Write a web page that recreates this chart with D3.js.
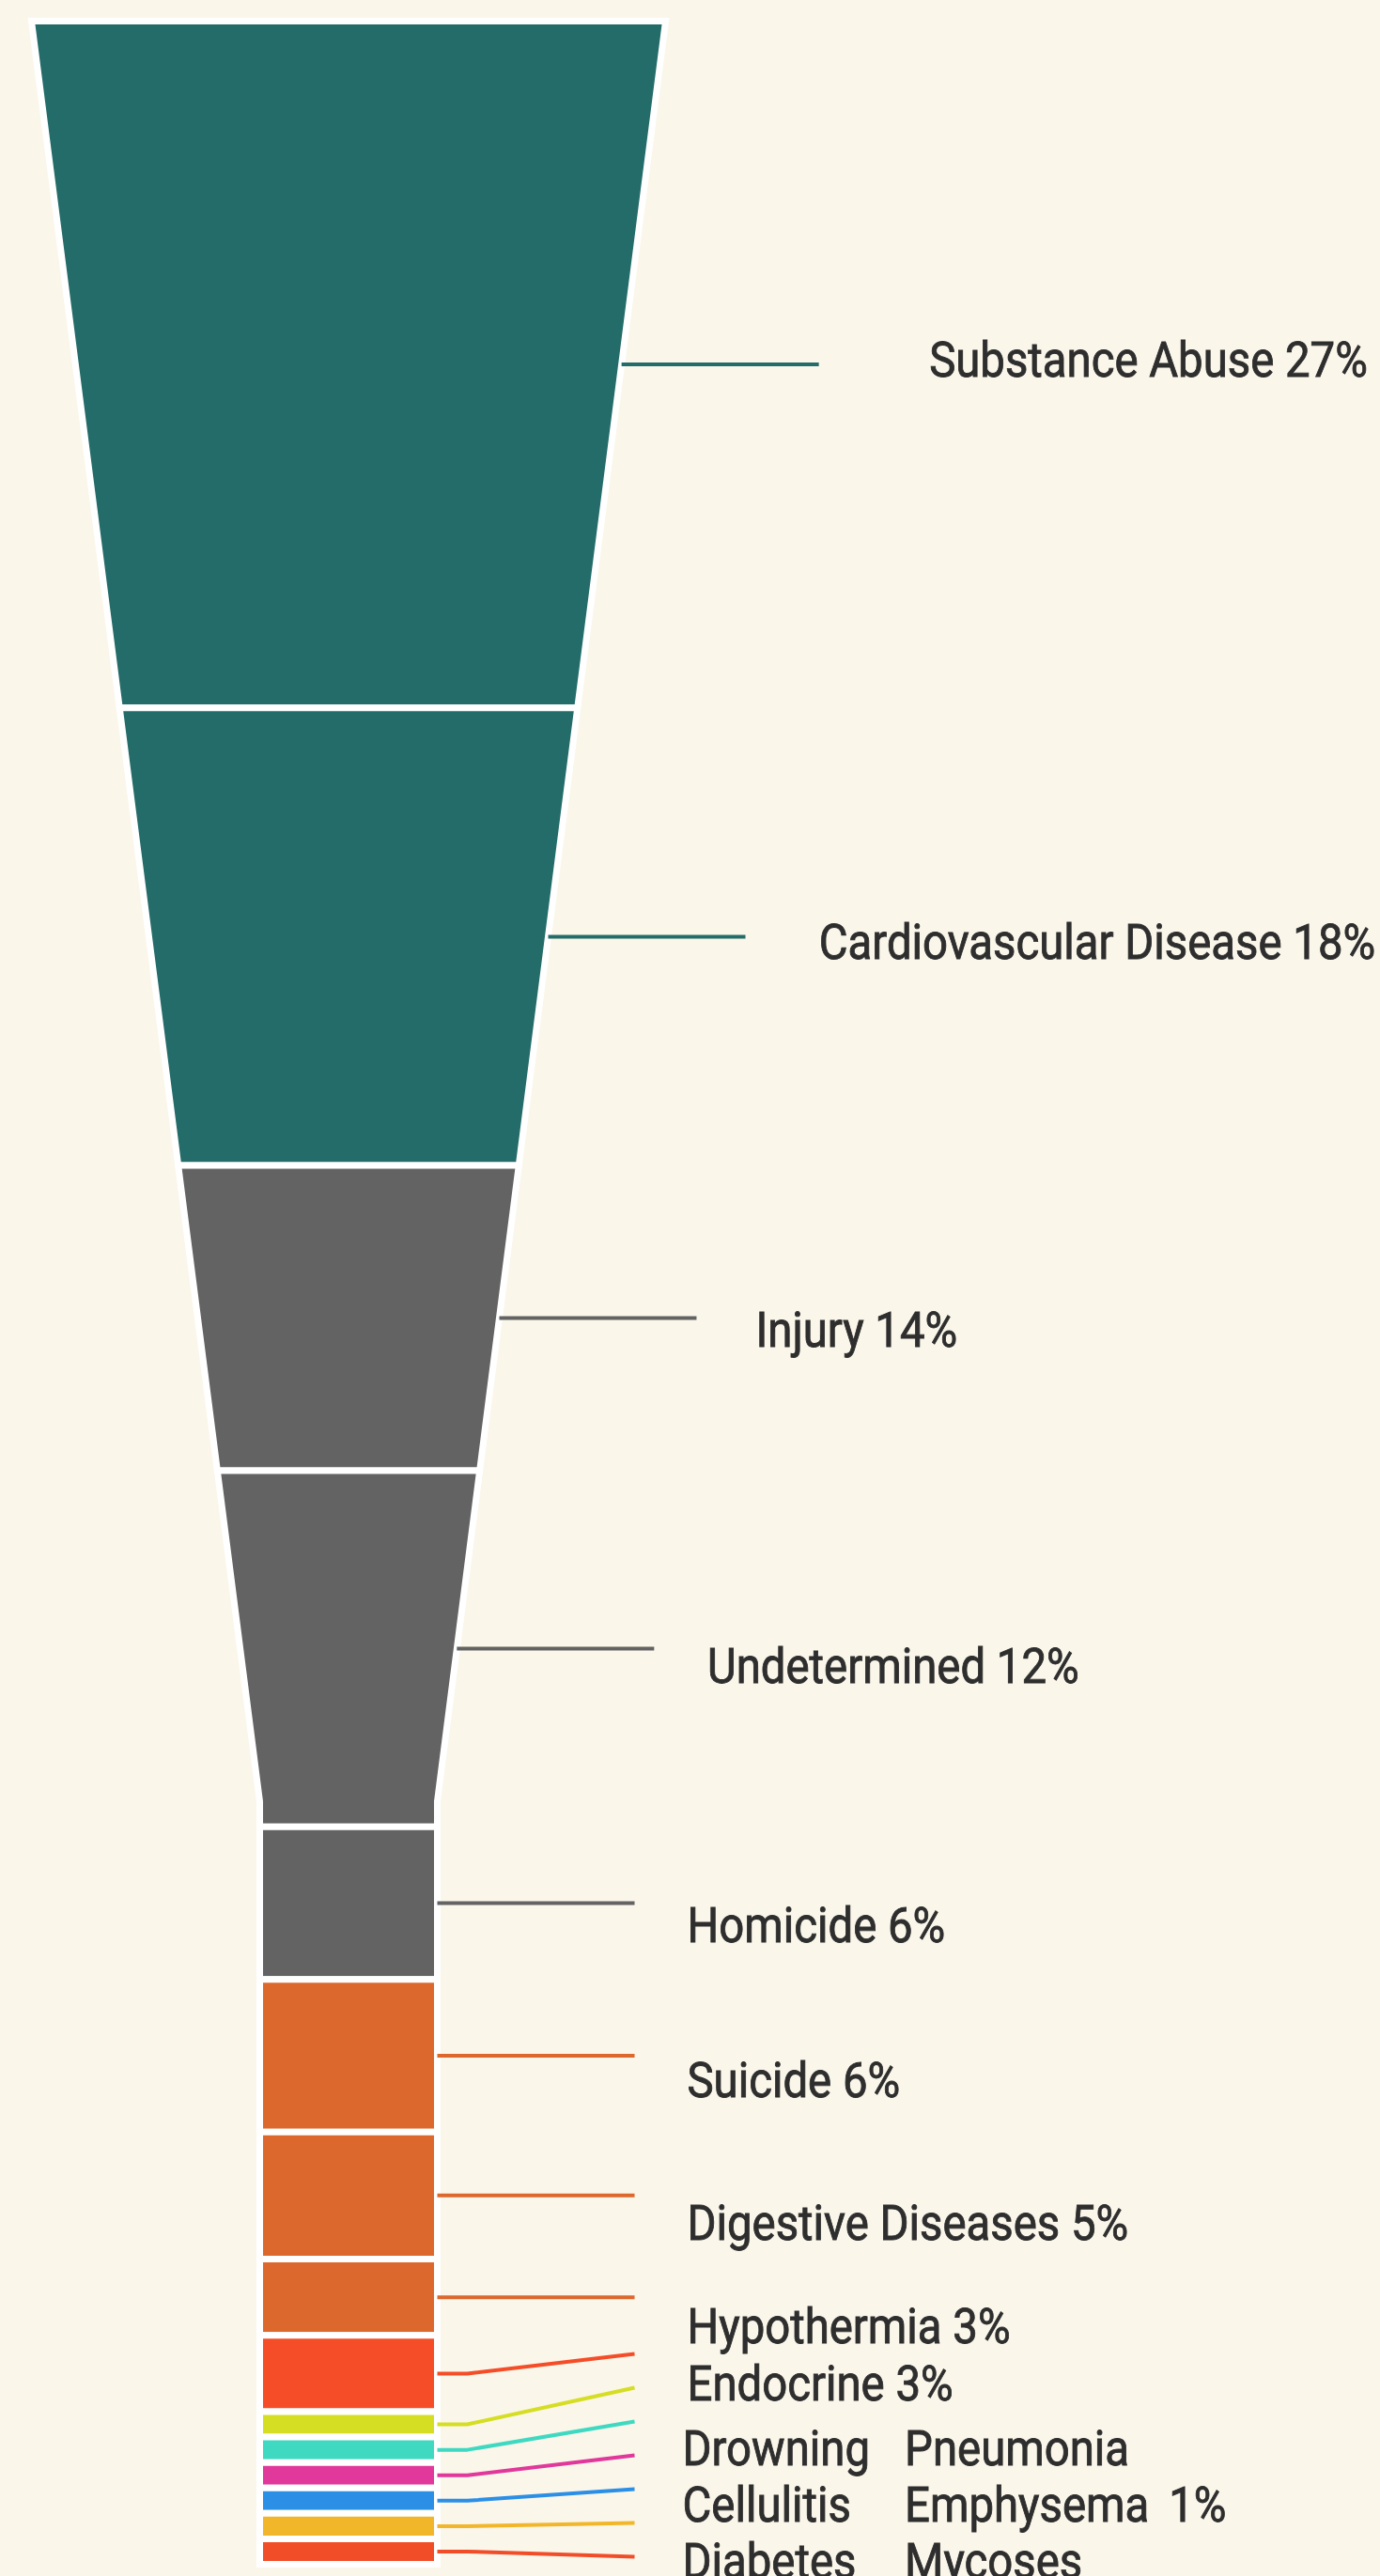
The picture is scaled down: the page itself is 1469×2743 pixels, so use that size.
<!DOCTYPE html>
<meta charset="utf-8">
<style>
  body { margin: 0; background: #faf6ea; }
  svg { display: block; background: #faf6ea; }
  .block { stroke: #fff; stroke-width: 7px; stroke-linejoin: miter; }
  .tick { fill: none; stroke-width: 4px; stroke-linejoin: round; }
  text {
    font-family: Roboto, "Noto Sans", sans-serif;
    font-size: 52px;
    fill: #2e2e2e;
    stroke: #2e2e2e;
    stroke-width: 0.9px;
  }
</style>
<body>
<svg width="1469" height="2743"></svg>
<script src="https://d3js.org/d3.v7.min.js"></script>
<script>
// causes, top to bottom
const causes = ['Substance Abuse', 'Cardiovascular Disease', 'Injury', 'Undetermined',
  'Homicide', 'Suicide', 'Digestive Diseases', 'Hypothermia', 'Endocrine',
  'Drowning', 'Pneumonia', 'Cellulitis', 'Emphysema', 'Diabetes', 'Mycoses'];

// percentages printed in the labels
const labelPct = [27, 18, 14, 12, 6, 6, 5, 3, 3, 1, 1, 1, 1, 1, 1];

// share each block takes up in the funnel (as drawn, Injury/Undetermined heights are 12/14)
const blockShare = [27, 18, 12, 14, 6, 6, 5, 3, 3, 1, 1, 1, 1, 1, 1];

const palette = ['#246c69', '#246c69', '#636363', '#636363', '#636363', '#dd682d', '#dd682d',
  '#dd682d', '#f44d28', '#d5de22', '#3fd9c2', '#e0389b', '#2c8fe6', '#f2b62b', '#f24d29'];

// the 1% causes share one label, in rows of two
const groupRows = [['Drowning', 'Pneumonia'], ['Cellulitis', 'Emphysema', '1%'], ['Diabetes', 'Mycoses']];

const svg = d3.select('svg');
const color = d3.scaleOrdinal().domain(causes).range(palette);

// funnel geometry
const cx = 371, topW = 675, neckW = 189;
const y = d3.scaleLinear().domain([0, d3.sum(blockShare)]).range([22.5, 2730.5]);
const yNeck = y(d3.sum(blockShare) * 0.7);
const w = d3.scaleLinear().domain([y(0), yNeck]).range([topW, neckW]).clamp(true);

let acc = 0;
const blocks = causes.map((c, i) => {
  const b = { cause: c, pct: labelPct[i], y0: y(acc), y1: y(acc + blockShare[i]) };
  acc += blockShare[i];
  b.mid = (b.y0 + b.y1) / 2;
  return b;
});

function outline(b) {
  const right = [[cx + w(b.y0) / 2, b.y0]];
  if (b.y0 < yNeck && b.y1 > yNeck) right.push([cx + neckW / 2, yNeck]);
  right.push([cx + w(b.y1) / 2, b.y1]);
  const left = right.map(p => [2 * cx - p[0], p[1]]).reverse();
  return right.concat(left);
}

svg.append('g')
  .selectAll('path')
  .data(blocks)
  .join('path')
  .attr('class', 'block')
  .attr('fill', d => color(d.cause))
  .attr('d', d => d3.line()(outline(d)) + 'Z');

// label positions: keep them at least `gap` apart and above the funnel bottom
const gap = 36, maxY = y.range()[1] - 8;
const ly = blocks.map(b => b.mid);
for (let k = 0; k < 300; k++) {
  for (let i = 1; i < ly.length; i++) {
    const over = gap - (ly[i] - ly[i - 1]);
    if (over > 0) { ly[i - 1] -= over / 2; ly[i] += over / 2; }
  }
  if (ly[ly.length - 1] > maxY) ly[ly.length - 1] = maxY;
}
blocks.forEach((b, i) => {
  b.x0 = cx + w(b.mid) / 2;
  b.x1 = b.x0 + 210;
  b.ly = ly[i];
});

svg.append('g')
  .selectAll('path')
  .data(blocks)
  .join('path')
  .attr('class', 'tick')
  .attr('stroke', d => color(d.cause))
  .attr('d', d => d3.line()([[d.x0, d.mid], [d.x0 + 32, d.mid], [d.x1, d.ly]]));

// text sits in a slightly stretched frame compared with the ticks
const neckEnd = cx + neckW / 2 + 210;
const textY = v => y(0) + (v - y(0)) * 1.0175 - 12;
const textX = v => v + 56 + 0.0016 * (v - neckEnd) * (v - neckEnd);
const sx = 0.91;

const single = blocks.filter(b => b.pct > 1);
svg.append('g')
  .selectAll('text')
  .data(single)
  .join('text')
  .attr('transform', d => `translate(${textX(d.x1)},${textY(d.ly)}) scale(${sx},1)`)
  .attr('dy', '0.355em')
  .text(d => `${d.cause} ${d.pct}%`);

const small = blocks.filter(b => b.pct === 1);
const gy = textY(d3.mean(small, d => d.ly));
const gx = textX(d3.mean(small, d => d.x1)) - 5;
const colX = [0, 260, 569];
const group = svg.append('g')
  .attr('transform', `translate(${gx},${gy}) scale(${sx},1)`);
group.selectAll('text')
  .data(groupRows)
  .join('text')
  .attr('y', (d, i) => (i - 1) * 60)
  .attr('dy', '0.355em')
  .selectAll('tspan')
  .data(d => d)
  .join('tspan')
  .attr('x', (d, i) => colX[i])
  .text(d => d);
</script>
</body>
